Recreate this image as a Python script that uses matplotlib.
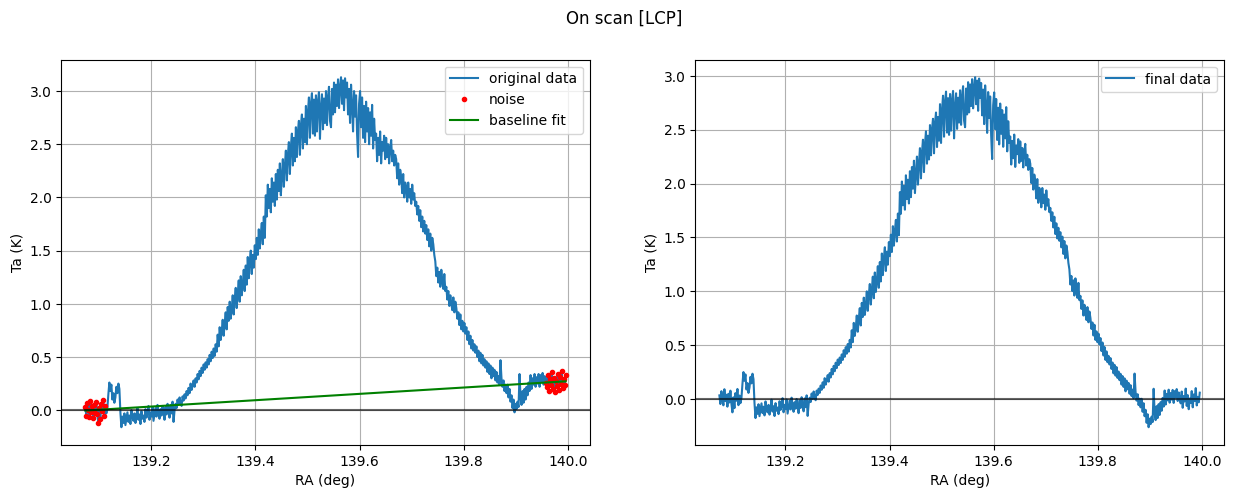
import numpy as np
import matplotlib
matplotlib.use("Agg")
import matplotlib.pyplot as plt

# RA range of the scan (deg)
ra_start = 139.073
ra_end = 139.996

# Antenna temperature of the original scan (K)
ta_original = [
    0.03, -0.05, 0.07, 0.00, -0.06, 0.09, -0.02, 0.04, -0.07, 0.05,
    -0.03, 0.08, -0.04, -0.12, 0.02, -0.08, 0.06, -0.01, 0.10, -0.05,
    0.04, -0.03, 0.02, 0.15, 0.26, 0.18, 0.24, 0.10, 0.16, 0.07,
    0.12, 0.22, 0.16, 0.25, 0.20, -0.02, -0.16, -0.06, -0.12, -0.03,
    -0.14, -0.08, -0.02, -0.11, -0.05, -0.13, 0.00, -0.07, -0.10, -0.03,
    -0.12, -0.06, 0.02, -0.09, -0.04, -0.13, -0.01, -0.08, -0.05, -0.11,
    0.01, -0.07, -0.03, 0.04, -0.09, -0.02, -0.06, 0.03, -0.10, -0.04,
    0.02, -0.06, 0.05, -0.03, -0.08, 0.01, -0.05, 0.04, -0.02, -0.09,
    0.03, -0.04, 0.06, -0.01, -0.07, 0.05, -0.03, 0.08, -0.11, 0.00,
    0.06, 0.02, 0.10, 0.05, 0.12, 0.07, 0.04, 0.13, 0.09, 0.15,
    0.11, 0.18, 0.14, 0.21, 0.16, 0.25, 0.19, 0.23, 0.28, 0.22,
    0.30, 0.26, 0.34, 0.29, 0.37, 0.32, 0.40, 0.35, 0.43, 0.38,
    0.45, 0.40, 0.48, 0.43, 0.52, 0.46, 0.55, 0.49, 0.58, 0.51,
    0.62, 0.55, 0.71, 0.60, 0.78, 0.66, 0.74, 0.85, 0.70, 0.82,
    0.92, 0.76, 0.97, 0.84, 1.02, 0.86, 0.95, 1.08, 0.90, 1.05,
    1.15, 0.96, 1.10, 1.22, 1.02, 1.26, 1.08, 1.18, 1.32, 1.12,
    1.36, 1.18, 1.44, 1.24, 1.40, 1.50, 1.28, 1.46, 1.34, 1.55,
    1.42, 1.62, 1.46, 1.70, 1.52, 1.66, 1.76, 1.56, 1.82, 1.62,
    2.02, 1.82, 2.12, 1.90, 2.08, 1.86, 2.18, 1.96, 2.14, 1.92,
    2.22, 1.98, 2.26, 2.06, 2.32, 2.02, 2.20, 2.36, 2.10, 2.30,
    2.44, 2.16, 2.40, 2.52, 2.22, 2.48, 2.60, 2.30, 2.56, 2.34,
    2.66, 2.38, 2.62, 2.72, 2.40, 2.68, 2.78, 2.46, 2.74, 2.52,
    2.86, 2.50, 2.80, 2.94, 2.56, 2.88, 2.98, 2.60, 2.92, 2.58,
    2.96, 2.62, 2.90, 2.99, 2.55, 2.84, 2.97, 2.64, 2.93, 2.70,
    3.00, 2.68, 2.94, 3.04, 2.72, 2.66, 3.02, 2.78, 3.08, 2.80,
    3.06, 2.86, 3.11, 2.84, 3.04, 3.13, 2.88, 3.10, 2.82, 3.12,
    2.94, 3.08, 2.78, 3.02, 2.70, 3.06, 2.86, 2.62, 3.00, 2.76,
    2.96, 2.60, 2.38, 2.88, 3.00, 2.66, 2.94, 2.56, 2.86, 2.52,
    2.90, 2.62, 2.84, 2.50, 2.80, 2.58, 2.87, 2.46, 2.74, 2.54,
    2.60, 2.34, 2.56, 2.40, 2.62, 2.32, 2.52, 2.44, 2.58, 2.36,
    2.56, 2.38, 2.50, 2.32, 2.46, 2.54, 2.34, 2.44, 2.30, 2.40,
    2.36, 2.18, 2.32, 2.12, 2.26, 2.20, 2.04, 2.22, 2.00, 2.14,
    2.10, 1.96, 2.14, 2.00, 2.08, 1.94, 2.12, 1.98, 2.04, 1.92,
    1.96, 1.84, 1.92, 1.78, 1.88, 1.72, 1.82, 1.68, 1.78, 1.66,
    1.74, 1.60, 1.70, 1.54, 1.66, 1.50, 1.62, 1.56, 1.46, 1.40,
    1.26, 1.34, 1.20, 1.30, 1.16, 1.32, 1.22, 1.14, 1.28, 1.12,
    1.16, 1.04, 1.12, 0.98, 1.08, 1.00, 0.94, 1.06, 0.92, 1.02,
    0.96, 0.86, 0.92, 0.80, 0.90, 0.76, 0.84, 0.74, 0.82, 0.72,
    0.78, 0.66, 0.74, 0.62, 0.70, 0.58, 0.66, 0.56, 0.62, 0.54,
    0.60, 0.50, 0.56, 0.46, 0.54, 0.44, 0.52, 0.42, 0.48, 0.40,
    0.46, 0.36, 0.44, 0.34, 0.42, 0.30, 0.40, 0.32, 0.38, 0.28,
    0.36, 0.26, 0.32, 0.24, 0.47, 0.30, 0.22, 0.28, 0.18, 0.24,
    0.16, 0.24, 0.12, 0.20, 0.08, 0.14, 0.02, 0.10, -0.02, 0.06,
    0.01, 0.08, 0.03, 0.34, 0.12, 0.05, 0.18, 0.07, 0.20, 0.10,
    0.22, 0.14, 0.26, 0.18, 0.33, 0.20, 0.30, 0.24, 0.34, 0.22,
    0.31, 0.25, 0.34, 0.22, 0.33, 0.27, 0.35, 0.24, 0.32, 0.26,
    0.22, 0.33, 0.18, 0.29, 0.24, 0.36, 0.20, 0.30, 0.17, 0.27,
    0.23, 0.34, 0.19, 0.31, 0.25, 0.37, 0.21, 0.29, 0.24, 0.33,
]

# number of samples at each end of the scan used as noise for the baseline fit
noise_count = 21

ta = np.array(ta_original)
ra = np.linspace(ra_start, ra_end, len(ta))

noise_mask = np.zeros(len(ta), dtype=bool)
noise_mask[:noise_count] = True
noise_mask[-noise_count:] = True

coef = np.polyfit(ra[noise_mask], ta[noise_mask], 1)
baseline = np.polyval(coef, ra)
ta_final = ta - baseline

fig, (ax1, ax2) = plt.subplots(1, 2, figsize=(15, 5), dpi=100)
fig.suptitle("On scan [LCP]")

ax1.plot(ra, ta, label="original data")
ax1.plot(ra[noise_mask], ta[noise_mask], "r.", label="noise")
ax1.plot(ra, baseline, "g", label="baseline fit")
ax1.axhline(0, color="k", alpha=0.6)
ax1.set_xlabel("RA (deg)")
ax1.set_ylabel("Ta (K)")
ax1.grid(True)
ax1.legend(loc="upper right")

ax2.plot(ra, ta_final, label="final data")
ax2.axhline(0, color="k", alpha=0.6)
ax2.set_xlabel("RA (deg)")
ax2.set_ylabel("Ta (K)")
ax2.grid(True)
ax2.legend(loc="upper right")

fig.savefig("out.png", dpi=100, bbox_inches="tight")
